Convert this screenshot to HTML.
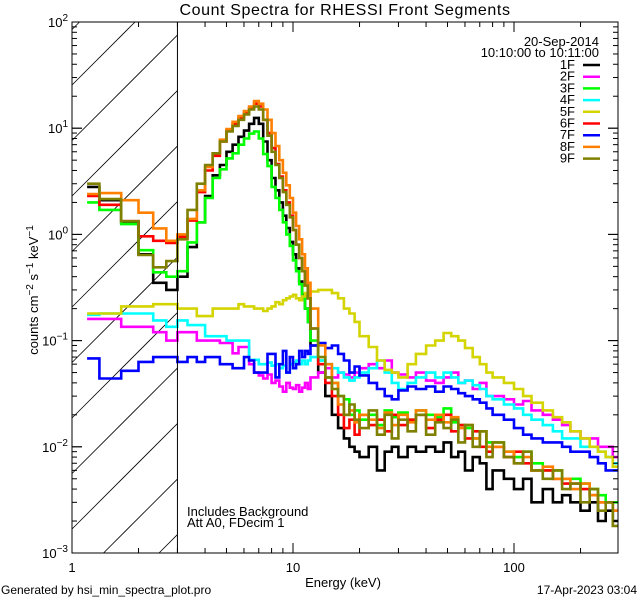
<!DOCTYPE html>
<html><head><meta charset="utf-8"><style>
html,body{margin:0;padding:0;background:#fff;overflow:hidden;width:640px;height:600px;}
svg{display:block;font-family:"Liberation Sans","DejaVu Sans",sans-serif;}
</style></head><body>
<svg id="chart" width="640" height="600" viewBox="0 0 640 600" xmlns="http://www.w3.org/2000/svg">
<rect x="0" y="0" width="640" height="600" fill="#fff"/>
<defs><clipPath id="plotclip"><rect x="72" y="22" width="546" height="531"/></clipPath></defs>
<text x="345" y="15" font-size="16" text-anchor="middle" letter-spacing="0.6">Count Spectra for RHESSI Front Segments</text>
<g id="hatch"></g>
<g id="series" clip-path="url(#plotclip)"></g>
<g id="axes"></g>
<text transform="translate(38,290) rotate(-90)" font-size="13" text-anchor="middle">counts cm<tspan dy="-5" font-size="10">−2</tspan><tspan dy="5"> s</tspan><tspan dy="-5" font-size="10">−1</tspan><tspan dy="5"> keV</tspan><tspan dy="-5" font-size="10">−1</tspan></text>
<text x="343" y="587" font-size="13" text-anchor="middle">Energy (keV)</text>
<text x="187" y="516" font-size="13">Includes Background</text>
<text x="187" y="527" font-size="13">Att A0, FDecim 1</text>
<text x="1" y="594" font-size="12">Generated by hsi_min_spectra_plot.pro</text>
<text x="637" y="594" font-size="12" text-anchor="end">17-Apr-2023 03:04</text>
<text x="599" y="46" font-size="13" text-anchor="end">20-Sep-2014</text>
<text x="599" y="57" font-size="13" text-anchor="end">10:10:00 to 10:11:00</text>
<g id="legend"></g>
</svg>
<script>
const edges=[1.17,1.33,1.67,2,2.33,2.67,3,3.33,3.67,4,4.33,4.67,5,5.33,5.67,6,6.33,6.67,7,7.33,7.67,8,8.33,8.67,9,9.33,9.67,10,10.33,10.67,11,11.33,11.67,12,13,14,15,16,17,18,19,20,22,24,26,28,30,33,36,40,44,48,52,56,60,65,70,75,80,90,100,110,120,135,150,165,180,200,220,240,260,280,300];
const labels=["1F","2F","3F","4F","5F","6F","7F","8F","9F"];
const colors=["#000000","#ff00ff","#00ff00","#00ffff","#d4d400","#ff0000","#0000ff","#ff8000","#808000"];
const s1F=[2.8,2.1,1.3,0.65,0.35,0.3,0.4, 0.76,1.3,2.3,3.6,4.5,6.0,7.0,8.3,9.5,11,12.5,11,7.5,5.0,3.4,2.6,2.0,1.5,1.15,0.85,0.65,0.48,0.36,0.27,0.2,0.15,0.09, 0.05,0.03,0.02,0.015,0.012,0.01,0.009,0.008,0.01,0.006,0.009,0.01,0.008,0.01,0.009,0.01,0.009,0.011,0.008,0.009,0.006,0.008,0.007,0.004,0.006,0.005,0.004,0.005,0.003,0.004,0.003,0.0035,0.003,0.0025,0.003,0.002,0.0025,0.002];
const s2F=[0.16,0.16,0.135,0.135,0.12,0.1,0.12, 0.12,0.1,0.1,0.1,0.095,0.095,0.076,0.087,0.087,0.06,0.05,0.047,0.044,0.048,0.04,0.042,0.037,0.033,0.04,0.036,0.035,0.038,0.033,0.036,0.04,0.035,0.045, 0.05,0.055,0.045,0.05,0.048,0.045,0.05,0.055,0.06,0.055,0.065,0.05,0.048,0.045,0.05,0.042,0.04,0.045,0.05,0.04,0.042,0.035,0.04,0.03,0.03,0.028,0.025,0.027,0.022,0.02,0.018,0.016,0.014,0.012,0.012,0.01,0.01,0.008];
const s3F=[2.0,1.7,1.25,0.71,0.44,0.4,0.45, 0.84,1.3,2.2,3.4,4.1,5.2,5.8,7.0,8.0,8.9,9.3,8.0,5.7,4.4,2.8,2.2,1.7,1.3,1.0,0.78,0.57,0.45,0.34,0.25,0.2,0.15,0.1, 0.065,0.045,0.04,0.03,0.028,0.02,0.022,0.018,0.02,0.016,0.022,0.019,0.021,0.018,0.022,0.02,0.019,0.023,0.017,0.016,0.015,0.012,0.014,0.011,0.011,0.009,0.008,0.009,0.007,0.006,0.006,0.005,0.005,0.0045,0.004,0.0035,0.003,0.003];
const s4F=[0.175,0.18,0.18,0.18,0.155,0.135,0.155, 0.14,0.14,0.11,0.11,0.11,0.1,0.1,0.1,0.1,0.066,0.066,0.06,0.06,0.062,0.058,0.06,0.055,0.058,0.05,0.06,0.062,0.065,0.06,0.065,0.06,0.065,0.07, 0.065,0.06,0.055,0.05,0.045,0.042,0.045,0.05,0.055,0.065,0.05,0.04,0.035,0.04,0.045,0.05,0.045,0.05,0.045,0.04,0.042,0.038,0.035,0.03,0.028,0.025,0.023,0.02,0.018,0.016,0.014,0.012,0.012,0.01,0.01,0.009,0.008,0.007];
const s5F=[0.18,0.18,0.21,0.21,0.22,0.22,0.2, 0.2,0.17,0.17,0.2,0.2,0.2,0.2,0.22,0.21,0.21,0.2,0.2,0.19,0.2,0.21,0.23,0.22,0.24,0.25,0.26,0.27,0.25,0.24,0.26,0.28,0.27,0.29, 0.3,0.3,0.28,0.25,0.2,0.18,0.15,0.11,0.087,0.065,0.053,0.05,0.045,0.06,0.075,0.09,0.1,0.118,0.11,0.1,0.085,0.07,0.06,0.05,0.045,0.04,0.035,0.03,0.026,0.022,0.019,0.017,0.014,0.012,0.01,0.009,0.008,0.0065];
const s6F=[2.3,1.9,1.33,0.96,0.87,0.83,0.95, 1.35,2.5,4.0,5.5,7.5,9.5,11,12.5,14,15.5,17,16,12,9,6.5,4.6,3.5,2.6,2.0,1.5,1.1,0.8,0.6,0.45,0.33,0.25,0.13, 0.06,0.04,0.03,0.02,0.015,0.018,0.013,0.02,0.016,0.018,0.014,0.02,0.016,0.018,0.02,0.015,0.018,0.02,0.014,0.016,0.012,0.014,0.01,0.009,0.01,0.008,0.009,0.007,0.006,0.006,0.005,0.0045,0.0045,0.004,0.0035,0.003,0.003,0.0025];
const s7F=[0.068,0.044,0.052,0.063,0.07,0.07,0.063, 0.07,0.063,0.07,0.07,0.06,0.06,0.055,0.055,0.07,0.065,0.05,0.05,0.05,0.075,0.075,0.045,0.06,0.08,0.05,0.07,0.055,0.06,0.08,0.07,0.08,0.075,0.09, 0.095,0.085,0.09,0.075,0.065,0.05,0.057,0.047,0.04,0.035,0.03,0.028,0.034,0.037,0.035,0.037,0.033,0.037,0.035,0.032,0.03,0.028,0.026,0.023,0.02,0.018,0.015,0.013,0.012,0.011,0.011,0.01,0.009,0.009,0.008,0.007,0.006,0.006];
const s8F=[2.4,2.45,2.1,1.6,1.14,0.87,1.0, 1.4,2.6,4.3,5.8,7.8,9.8,11.5,13,14.5,16,18,17,15,12,9,6.8,5,3.8,2.9,2.2,1.6,1.2,0.9,0.65,0.48,0.35,0.2, 0.09,0.06,0.04,0.025,0.02,0.022,0.017,0.02,0.018,0.015,0.021,0.016,0.02,0.017,0.022,0.018,0.02,0.017,0.019,0.015,0.016,0.012,0.014,0.01,0.01,0.009,0.007,0.008,0.006,0.0065,0.005,0.005,0.004,0.0045,0.0035,0.003,0.003,0.0025];
const s9F=[3.0,2.15,1.33,0.64,0.49,0.56,0.9, 1.7,3.0,4.5,5.8,7.5,9.3,10.5,12,13.5,15,16,15,12,8.5,6,4.5,3.4,2.5,1.9,1.45,1.1,0.8,0.6,0.45,0.33,0.25,0.13, 0.07,0.045,0.035,0.03,0.02,0.025,0.018,0.015,0.022,0.013,0.02,0.012,0.018,0.014,0.02,0.013,0.017,0.015,0.018,0.011,0.016,0.01,0.014,0.008,0.011,0.008,0.007,0.009,0.006,0.005,0.006,0.004,0.0045,0.003,0.004,0.0025,0.003,0.0018];
const allSeries=[s1F,s2F,s3F,s4F,s5F,s6F,s7F,s8F,s9F];
const xTicks=[1,10,100];
const yTicks=[100,10,1,0.1,0.01,0.001];
const yTickExp=["2","1","0","−1","−2","−3"];

const NS="http://www.w3.org/2000/svg";
const X0=72,X1=618,Y0=553,Y1=22;
const xmin=1,xmax=Math.pow(10,(X1-X0)/221),ymin=0.001,ymax=100;
function xs(e){return X0+(Math.log10(e)-Math.log10(xmin))/(Math.log10(xmax)-Math.log10(xmin))*(X1-X0);}
function ys(v){return Y0-(Math.log10(v)-Math.log10(ymin))/(Math.log10(ymax)-Math.log10(ymin))*(Y0-Y1);}
function mk(tag,attrs,parent){const el=document.createElementNS(NS,tag);for(const k in attrs)el.setAttribute(k,attrs[k]);parent.appendChild(el);return el;}

const hatch=document.getElementById('hatch');
const HX1=xs(3);
for(let k=-2;k<14;k++){
  const y0=85+k*55.5;
  const xa=Math.max(X0,X0+(y0-Y0)),xb=Math.min(HX1,X0+(y0-Y1));
  if(xb<=xa)continue;
  const ln=mk('line',{x1:xa,y1:y0-(xa-X0),x2:xb,y2:y0-(xb-X0),stroke:'#000','stroke-width':0.8},hatch);
  
  
}
const sg=document.getElementById('series');
allSeries.forEach((vals,i)=>{
  let d='';
  for(let b=0;b<vals.length;b++){
    const xa=xs(edges[b]).toFixed(1),xb=Math.min(X1,xs(edges[b+1])).toFixed(1),y=ys(vals[b]).toFixed(1);
    d+=(b===0?'M':'L')+xa+','+y+'L'+xb+','+y;
  }
  const p=mk('path',{d:d,fill:'none',stroke:colors[i],'stroke-width':2.6,'stroke-linejoin':'miter'},sg);
  
  
});
const ax=document.getElementById('axes');
const fr=mk('rect',{x:X0,y:Y1,width:X1-X0,height:Y0-Y1,fill:'none',stroke:'#000','stroke-width':1},ax);


const lim=mk('line',{x1:xs(3),y1:Y1,x2:xs(3),y2:Y0,stroke:'#000','stroke-width':1},ax);


for(let dec=1;dec<=100;dec*=10){
  for(let m=1;m<10;m++){
    const e=dec*m; if(e>xmax)break;
    const x=xs(e),len=(m===1)?10:5;
    mk('line',{x1:x,y1:Y0,x2:x,y2:Y0-len,stroke:'#000'},ax);
    mk('line',{x1:x,y1:Y1,x2:x,y2:Y1+len,stroke:'#000'},ax);
  }
}
xTicks.forEach(t=>{
  const tx=mk('text',{x:xs(t),y:572,'font-size':13,'text-anchor':'middle'},ax);
  tx.textContent=String(t);
  
  
});
for(let dec=0.001;dec<99;dec*=10){
  for(let m=1;m<=10;m++){
    const v=dec*m,y=ys(v),len=(m===1||m===10)?10:5;
    mk('line',{x1:X0,y1:y,x2:X0+len,y2:y,stroke:'#000'},ax);
    mk('line',{x1:X1,y1:y,x2:X1-len,y2:y,stroke:'#000'},ax);
  }
}
yTicks.forEach((t,i)=>{
  const tx=mk('text',{x:68,y:ys(t)+5,'font-size':13,'text-anchor':'end'},ax);
  
  
  const a=document.createElementNS(NS,'tspan');a.textContent='10';tx.appendChild(a);
  const b=document.createElementNS(NS,'tspan');b.setAttribute('dy','-6');b.setAttribute('font-size','10');b.textContent=yTickExp[i];tx.appendChild(b);
});
const lg=document.getElementById('legend');
labels.forEach((l,i)=>{
  const y=65+i*11.7;
  const t=mk('text',{x:575,y:y+4,'font-size':13,'text-anchor':'end'},lg);
  t.textContent=l;
  
  
  const ln=mk('line',{x1:583,y1:y,x2:600,y2:y,stroke:colors[i],'stroke-width':2.5},lg);
  
  
});
</script>
</body></html>
